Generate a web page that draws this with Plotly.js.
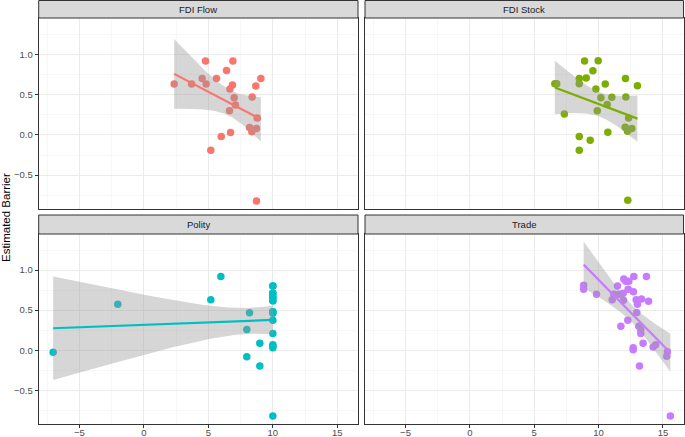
<!DOCTYPE html>
<html>
<head>
<meta charset="utf-8">
<script src="https://cdn.plot.ly/plotly-3.0.1.min.js"></script>
<style>html,body{margin:0;padding:0;background:#fff;}#chart{width:685px;height:437px;}</style>
</head>
<body>
<div id="chart"></div>
<script>
// ---- data ----
const panelNames = ["FDI Flow", "FDI Stock", "Polity", "Trade"];
const panelColors = ["#F8766D", "#7CAE00", "#00BFC4", "#C77CFF"];

const fdiFlowX = [2.35, 3.7, 4.52, 4.83, 4.78, 5.63, 5.19, 6.0, 6.41, 6.9, 6.87, 6.67, 7.0, 7.1, 6.64, 6.72, 8.4, 8.68, 9.07, 8.79, 8.19, 8.37, 8.73, 8.73];
const fdiFlowY = [0.63, 0.63, 0.70, 0.63, 0.916, 0.70, -0.19, -0.02, 0.80, 0.916, 0.62, 0.57, 0.46, 0.37, 0.30, 0.03, 0.47, 0.605, 0.70, 0.21, 0.09, 0.04, 0.08, -0.82];

const fdiStockX = [6.6, 6.75, 7.34, 8.5, 8.5, 8.91, 9.04, 9.56, 9.97, 9.79, 10.52, 10.18, 11.03, 10.67, 9.9, 8.5, 9.35, 8.5, 10.72, 12.09, 12.12, 13.02, 12.33, 12.07, 12.25, 12.58, 12.27];
const fdiStockY = [0.634, 0.634, 0.26, 0.70, 0.634, 0.916, 0.705, 0.796, 0.92, 0.57, 0.63, 0.46, 0.468, 0.377, 0.30, -0.02, -0.066, -0.19, 0.033, 0.70, 0.47, 0.61, 0.21, 0.095, 0.046, 0.08, -0.81];

// several countries share polity = 10, so some points overlap exactly
const polityX = [-7.03, -2.02, 5.19, 5.97, 8.19, 7.98, 7.98, 8.99, 8.99, 10, 10, 10, 10, 10, 10, 10, 10, 10, 10, 10, 10, 10, 10, 10, 10, 10];
const polityY = [-0.025, 0.575, 0.63, 0.92, 0.467, 0.26, -0.08, 0.088, -0.196, 0.80, 0.71, 0.66, 0.617, 0.48, 0.46, 0.375, 0.21, 0.07, 0.05, 0.03, -0.82, 0.80, 0.71, 0.66, 0.617, 0.48];

const tradeX = [8.84, 8.84, 9.84, 11.06, 11.47, 11.19, 11.6, 11.91, 11.96, 12.12, 12.35, 12.74, 13.72, 12.3, 12.71, 11.94, 12.92, 13.33, 13.88, 13.02, 12.97, 12.27, 11.73, 13.13, 13.28, 13.28, 13.46, 12.69, 12.69, 13.18, 14.24, 14.44, 15.35, 15.3, 15.58];
const tradeY = [0.81, 0.76, 0.70, 0.63, 0.80, 0.70, 0.70, 0.71, 0.89, 0.86, 0.86, 0.92, 0.92, 0.76, 0.73, 0.625, 0.63, 0.64, 0.61, 0.575, 0.47, 0.375, 0.30, 0.30, 0.255, 0.21, 0.0875, 0.03, 0.005, -0.196, 0.04, 0.07, -0.02, -0.075, -0.82];

const xTickVals = [-5, 0, 5, 10, 15];
const xTickText = ["\u22125", "0", "5", "10", "15"];
const yTickVals = [-0.5, 0, 0.5, 1.0];
const yTickText = ["\u22120.5", "0.0", "0.5", "1.0"];
const xMinorVals = [-7.5, -2.5, 2.5, 7.5, 12.5];
const yMinorVals = [-0.75, -0.25, 0.25, 0.75, 1.25];
const yTitle = "Estimated Barrier";

// ---- linear fit with 95% confidence band (like geom_smooth(method="lm")) ----
function tQuant975(df) {
  const z = 1.959964;
  const z3 = z*z*z, z5 = z3*z*z, z7 = z5*z*z;
  return z + (z3 + z)/(4*df) + (5*z5 + 16*z3 + 3*z)/(96*df*df)
           + (3*z7 + 19*z5 + 17*z3 - 15*z)/(384*df*df*df);
}
function lmFit(xs, ys) {
  const n = xs.length;
  const mx = xs.reduce((a,b)=>a+b,0)/n, my = ys.reduce((a,b)=>a+b,0)/n;
  let sxx = 0, sxy = 0;
  for (let i=0;i<n;i++){ sxx += (xs[i]-mx)**2; sxy += (xs[i]-mx)*(ys[i]-my); }
  const b = sxy/sxx, a = my - b*mx;
  let sse = 0;
  for (let i=0;i<n;i++){ sse += (ys[i]-a-b*xs[i])**2; }
  const s = Math.sqrt(sse/(n-2));
  const t = tQuant975(n-2);
  const lo = Math.min(...xs), hi = Math.max(...xs);
  const gx = [], gy = [], up = [], dn = [];
  for (let k=0;k<80;k++){
    const x = lo + (hi-lo)*k/79;
    const f = a + b*x;
    const se = s*Math.sqrt(1/n + (x-mx)**2/sxx);
    gx.push(x); gy.push(f); up.push(f + t*se); dn.push(f - t*se);
  }
  return {gx, gy, up, dn};
}

const seriesX = [fdiFlowX, fdiStockX, polityX, tradeX];
const seriesY = [fdiFlowY, fdiStockY, polityY, tradeY];
const traces = [];
for (let p=0;p<4;p++){
  const xa = p===0 ? 'x' : 'x'+(p+1);
  const ya = p===0 ? 'y' : 'y'+(p+1);
  traces.push({type:'scatter', mode:'markers', x:seriesX[p], y:seriesY[p], xaxis:xa, yaxis:ya,
    marker:{color:panelColors[p], size:7.5, line:{width:0}}, showlegend:false, hoverinfo:'skip'});
  const f = lmFit(seriesX[p], seriesY[p]);
  traces.push({type:'scatter', mode:'lines', x:f.gx.concat(f.gx.slice().reverse()),
    y:f.up.concat(f.dn.slice().reverse()), fill:'toself', fillcolor:'rgba(153,153,153,0.4)',
    line:{width:0}, xaxis:xa, yaxis:ya, showlegend:false, hoverinfo:'skip'});
  traces.push({type:'scatter', mode:'lines', x:f.gx, y:f.gy, xaxis:xa, yaxis:ya,
    line:{color:panelColors[p], width:2.2}, showlegend:false, hoverinfo:'skip'});
}

// ---- layout (pixel geometry converted to paper fractions) ----
const W = 685, H = 437;
const colX = [[38.7, 358], [365, 683.5]];
const rowY = [[18, 209], [234, 424]];        // from top
const stripY = [[0.5, 18], [215, 234]];      // from top
const xRange = [-8.15, 16.6], yRange = [-0.92, 1.45];
const fontFam = 'Liberation Sans, Arial, sans-serif';

const layout = {
  width: W, height: H, margin:{l:0,r:0,t:0,b:0}, paper_bgcolor:'#ffffff', plot_bgcolor:'#ffffff',
  showlegend:false, font:{family:fontFam, color:'#4D4D4D', size:9.5},
  shapes:[], annotations:[]
};
for (let p=0;p<4;p++){
  const c = p%2, r = Math.floor(p/2);
  const sfx = p===0 ? '' : String(p+1);
  const xd = [colX[c][0]/W, colX[c][1]/W];
  const yd = [(H-rowY[r][1])/H, (H-rowY[r][0])/H];
  layout['xaxis'+sfx] = {
    domain:xd, anchor:'y'+sfx, range:xRange, tickvals:xTickVals, ticktext:xTickText,
    showgrid:true, gridcolor:'#EBEBEB', gridwidth:1.1, zeroline:false,
    showline:true, mirror:true, linecolor:'#333333', linewidth:1,
    ticks: r===1 ? 'outside' : '', ticklen:3, tickcolor:'#333333', tickwidth:1,
    showticklabels: r===1, tickfont:{family:fontFam, size:9.5, color:'#4D4D4D'},
    ticklabelstandoff:-3,
    minor:{tickvals:xMinorVals, showgrid:true, gridcolor:'#F2F2F2', gridwidth:0.6, ticks:''},
    automargin:false, fixedrange:true
  };
  layout['yaxis'+sfx] = {
    domain:yd, anchor:'x'+sfx, range:yRange, tickvals:yTickVals, ticktext:yTickText,
    showgrid:true, gridcolor:'#EBEBEB', gridwidth:1.1, zeroline:false,
    showline:true, mirror:true, linecolor:'#333333', linewidth:1,
    ticks: c===0 ? 'outside' : '', ticklen:3, tickcolor:'#333333', tickwidth:1,
    showticklabels: c===0, tickfont:{family:fontFam, size:9.5, color:'#4D4D4D'},
    minor:{tickvals:yMinorVals, showgrid:true, gridcolor:'#F2F2F2', gridwidth:0.6, ticks:''},
    automargin:false, fixedrange:true
  };
  // strip
  const sy0 = (H-stripY[r][1])/H, sy1 = (H-stripY[r][0])/H;
  layout.shapes.push({type:'rect', xref:'paper', yref:'paper', x0:xd[0], x1:xd[1], y0:sy0, y1:sy1,
    fillcolor:'#D9D9D9', line:{color:'#333333', width:1}, layer:'above'});
  layout.annotations.push({xref:'paper', yref:'paper', x:(xd[0]+xd[1])/2, y:(sy0+sy1)/2,
    text:panelNames[p], showarrow:false, xanchor:'center', yanchor:'middle',
    font:{family:fontFam, size:9.5, color:'#1A1A1A'}});
}
layout.annotations.push({xref:'paper', yref:'paper', x:6/W, y:(H-218)/H, text:yTitle,
  textangle:-90, showarrow:false, xanchor:'center', yanchor:'middle',
  font:{family:fontFam, size:11.5, color:'#000000'}});

Plotly.newPlot('chart', traces, layout, {staticPlot:true, displayModeBar:false});
</script>
</body>
</html>
